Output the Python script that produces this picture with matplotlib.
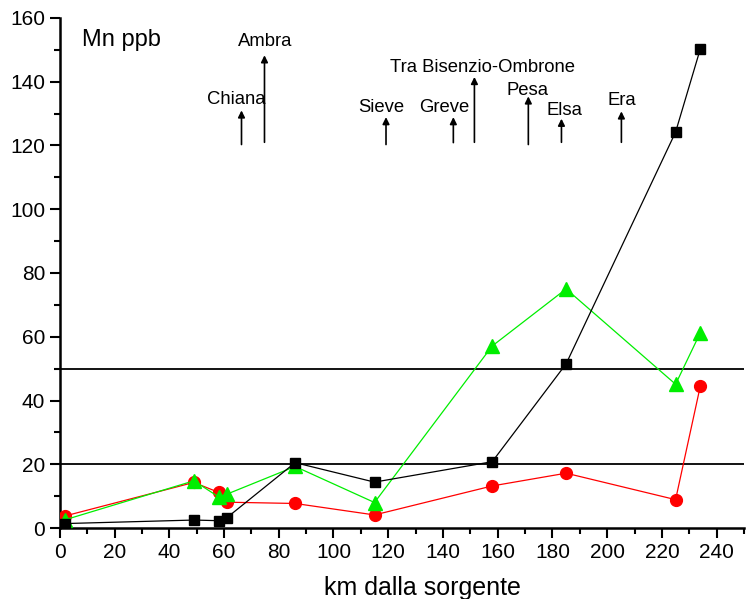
import matplotlib.pyplot as plt
from matplotlib.ticker import MultipleLocator

plt.rcParams["font.family"] = ["Liberation Sans", "DejaVu Sans"]

# distance from source (km)
km = [2, 49, 58, 61, 86, 115, 158, 185, 225, 234]

# Mn (ppb) series
mn_black = [1.4, 2.5, 2.3, 3.2, 20.5, 14.4, 20.8, 51.5, 124.2, 150.2]
mn_red = [3.8, 14.3, 11.2, 8.1, 7.7, 4.1, 13.2, 17.2, 8.9, 44.4]
mn_green = [2.6, 14.8, 9.8, 10.6, 19.3, 8.0, 57.1, 75.0, 45.1, 61.2]

# reference thresholds
thresholds = [50, 20]

# tributaries: name, arrow x, arrow base, arrow tip, label x, label y
trib_names = ["Chiana", "Ambra", "Sieve", "Greve", "Tra Bisenzio-Ombrone",
              "Pesa", "Elsa", "Era"]
trib_x = [66.4, 74.8, 119.2, 143.8, 151.5, 171.2, 183.3, 205.2]
trib_base = [120.3, 121.0, 120.3, 120.9, 121.0, 120.3, 121.0, 121.0]
trib_tip = [131.0, 148.3, 128.9, 128.9, 141.5, 135.4, 128.4, 130.7]
trib_label_x = [64.4, 75.0, 117.5, 140.5, 154.5, 171.0, 184.3, 205.3]
trib_label_y = [134.5, 152.6, 132.0, 132.0, 144.6, 137.3, 131.0, 134.2]

fig = plt.figure(figsize=(7.47, 5.99), dpi=100)
ax = fig.add_axes([0.080, 0.1185, 0.916, 0.8515])

for y in thresholds:
    ax.axhline(y, color="black", linewidth=1.3, zorder=1)

ax.plot(km, mn_black, "-", color="black", linewidth=0.9, marker="s",
        markersize=7.5, markerfacecolor="black", markeredgecolor="black", zorder=4)
ax.plot(km, mn_red, "-", color="#ff0000", linewidth=0.9, marker="o",
        markersize=8.5, markerfacecolor="#ff0000", markeredgecolor="#ff0000", zorder=3)
ax.plot(km, mn_green, "-", color="#00ee00", linewidth=0.9, marker="^",
        markersize=9.5, markerfacecolor="#00ee00", markeredgecolor="#00ee00", zorder=3)

for name, x, y0, y1, lx, ly in zip(trib_names, trib_x, trib_base, trib_tip,
                                   trib_label_x, trib_label_y):
    ax.annotate("", xy=(x, y1), xytext=(x, y0),
                arrowprops=dict(arrowstyle="-|>", color="black", lw=1.2,
                                mutation_scale=10, shrinkA=0, shrinkB=0))
    ax.text(lx, ly, name, ha="center", va="center", fontsize=13.3)

ax.text(8, 153, "Mn ppb", ha="left", va="center", fontsize=17)

ax.set_xlim(0, 250)
ax.set_ylim(0, 160)
ax.xaxis.set_major_locator(MultipleLocator(20))
ax.xaxis.set_minor_locator(MultipleLocator(10))
ax.yaxis.set_major_locator(MultipleLocator(20))
ax.yaxis.set_minor_locator(MultipleLocator(10))
ax.tick_params(which="major", direction="out", length=7, width=1.5, labelsize=15)
ax.tick_params(which="minor", direction="out", length=4, width=1.5)

ax.spines["top"].set_visible(False)
ax.spines["right"].set_visible(False)
ax.spines["left"].set_linewidth(1.8)
ax.spines["bottom"].set_linewidth(1.8)

ax.set_xlabel("km dalla sorgente", fontsize=18)
ax.xaxis.set_label_coords(0.530, -0.095)

fig.savefig("out.png", dpi=100)
